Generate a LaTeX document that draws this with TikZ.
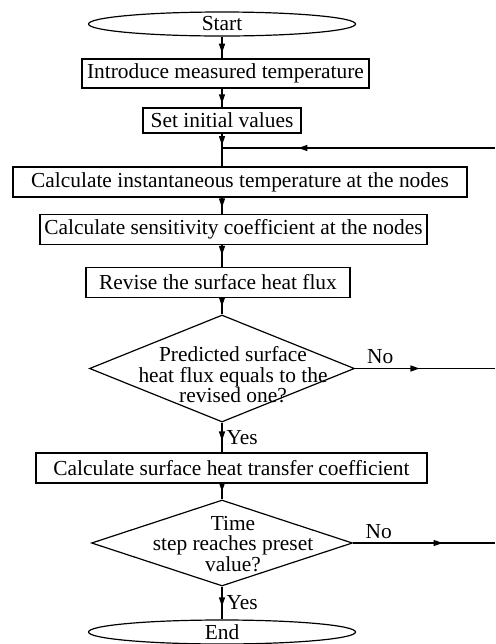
\documentclass[tikz,border=0pt]{standalone}
\usepackage{fontspec}
\setmainfont{Liberation Serif}
\usetikzlibrary{shapes.geometric,decorations.markings}
\newcommand{\flowtip}{\fill (0pt,0pt) -- (-4.5pt,1.6pt) -- (-4.5pt,-1.6pt) -- cycle;}

\begin{document}
\begin{tikzpicture}[x=0.5pt,y=-0.5pt,inner sep=0pt,line width=0.6pt,
	font=\fontsize{10.7pt}{10.3pt}\selectfont,
	terminal/.style={draw,ellipse,minimum width=133.5pt,minimum height=12pt},
	proc/.style={draw,rectangle,minimum height=15pt,minimum width=#1},
	decision/.style={draw,diamond},
	lbl/.style={inner sep=2pt},
	flowline/.style={postaction={decorate},decoration={markings,mark=at position #1 with {\flowtip}}},
	flowline/.default=0.6]
	\useasboundingbox (0,0) rectangle (495,644);
	% main column
	\node[terminal] (start) at (222,24) {Start};
	\node[proc=143.5pt,minimum height=14.5pt] (intro) at (225.5,73.5) {Introduce measured temperature};
	\node[proc=79pt,minimum height=12.5pt] (init) at (222,120.5) {Set initial values};
	\coordinate (join) at (222,148);
	\coordinate (back) at (495,148);
	\node[proc=227pt] (temp) at (240,182) {Calculate instantaneous temperature at the nodes};
	\node[proc=193.5pt] (sens) at (233.5,229.5) {Calculate sensitivity coefficient at the nodes};
	\node[proc=132pt] (revise) at (218,282.5) {Revise the surface heat flux};
	\node[decision,minimum width=132.5pt,minimum height=53.5pt] (fluxq) at (222,368.5) {};
	\node[align=center] (fluxtext) at (233,375) {Predicted surface\\heat flux equals to the\\revised one?};
	\coordinate (fluxno) at (495,368.5);
	\node[proc=195.5pt] (htc) at (231.5,468) {Calculate surface heat transfer coefficient};
	\node[decision,minimum width=130.5pt,minimum height=43pt] (stepq) at (222,543) {};
	\node[align=center] (steptext) at (233,544) {Time\\step reaches preset\\value?};
	\coordinate (stepno) at (495,543);
	\node[terminal] (end) at (222,632) {End};

	% connectors
	\draw[flowline=0.74] (start) -- (start |- intro.north);
	\draw[flowline=0.78] (start |- intro.south) -- (init);
	\draw[flowline=0.8] (init) -- (join);
	\draw[flowline=0.72] (back) -- (join);
	\draw (join) -- (join |- temp.north);
	\draw[flowline] (join |- temp.south) -- (join |- sens.north);
	\draw[flowline=0.45] (join |- sens.south) -- (join |- revise.north);
	\draw[flowline=0.5] (join |- revise.south) -- (fluxq);
	\draw[flowline] (fluxq) -- node[lbl,right] {Yes} (join |- htc.north);
	\draw[flowline=0.46] (fluxq) -- node[lbl,above,pos=0.18] {No} (fluxno);
	\draw[flowline=0.5] (join |- htc.south) -- (stepq);
	\draw[flowline=0.63] (stepq) -- node[lbl,above,pos=0.18] {No} (stepno);
	\draw[flowline] (stepq) -- node[lbl,right] {Yes} (end);
\end{tikzpicture}
\end{document}
